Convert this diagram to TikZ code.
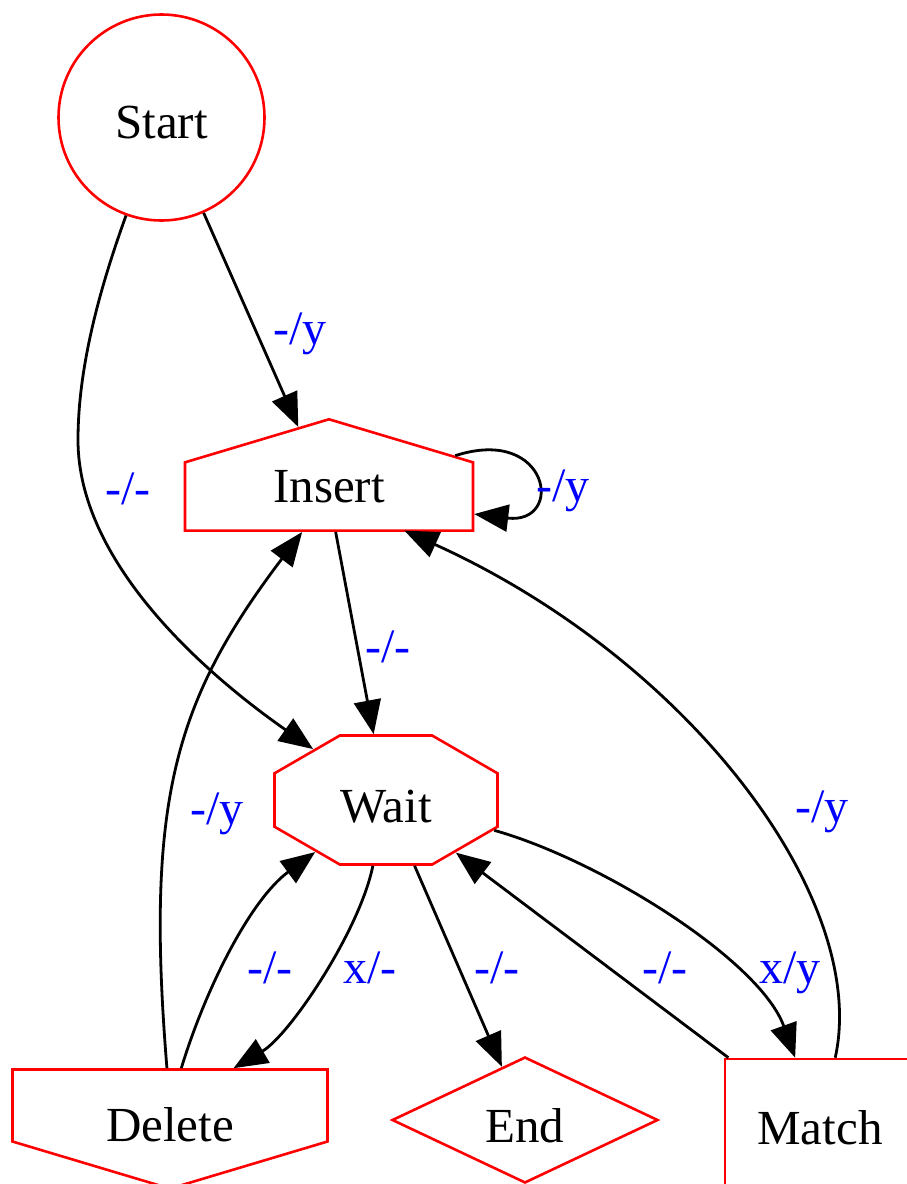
\documentclass[tikz,border=0pt]{standalone}
\usepackage{fontspec}
\setmainfont{Liberation Serif}
\usetikzlibrary{shapes.geometric,shapes.symbols,arrows.meta}
\definecolor{statered}{RGB}{255,0,0}
\definecolor{labelblue}{RGB}{0,0,255}

\begin{document}
\begin{tikzpicture}[x=1pt,y=-1pt,
    state/.style={draw=statered,line width=2.6pt,inner sep=0pt,text depth=0pt,font=\fontsize{49}{58}\selectfont},
    house/.style={signal,signal from=nowhere,signal pointer angle=146.7},
    edge/.style={line width=2.8pt,-{Triangle[length=34pt,width=27pt]}},
    lbl/.style={text=labelblue,inner sep=0pt,anchor=base,font=\fontsize{48}{58}\selectfont}]
  \clip (0,0) rectangle (907,1184);
  % states
  \node[state,circle,minimum size=206,text height=41pt] (start) at (161.5,117.5) {Start};
  \node[state,house,signal to=north,minimum width=288,minimum height=85,
        text height=33pt,text depth=22pt] (insert) at (329,496.5) {Insert};
  \node[state,shift={(386,800)},regular polygon,regular polygon sides=8,minimum size=139.6,
        xscale=1.7287,transform shape,text height=44pt] (wait) {\scalebox{0.5785}[1]{Wait}};
  \node[state,house,signal to=south,minimum width=315,minimum height=88,
        text height=72pt] (delete) at (170,1105.5) {Delete};
  \node[state,diamond,aspect=2,minimum width=266,minimum height=126,text height=44pt] (end) at (525,1120) {End};
  \node[state,rectangle,minimum width=190,minimum height=136] (match) at (820,1127) {Match};
  % transitions
  \draw[edge] (start) -- (insert);
  \draw[edge] (start) .. controls (98,293) and (78,370) .. (78,440)
    .. controls (78,560) and (200,670) .. (wait);
  \draw[edge] (insert) .. controls (550,425) and (565,525) .. (insert);
  \draw[edge] (insert) -- (wait);
  \draw[edge] (delete) .. controls (145,800) and (175,700) .. (insert);
  \draw[edge] (delete) .. controls (205,990) and (250,900) .. (wait);
  \draw[edge] (wait) .. controls (360,930) and (290,1035) .. (delete);
  \draw[edge] (wait) -- (end);
  \draw[edge] (match) -- (wait);
  \draw[edge] (wait) .. controls (600,860) and (760,960) .. (match);
  \draw[edge] (match) .. controls (870,900) and (690,660) .. (insert);
  % labels
  \node[lbl] (lab-si) at (300,344) {-/y};
  \node[lbl] (lab-sw) at (128,504) {-/-};
  \node[lbl] (lab-ii) at (563,501) {-/y};
  \node[lbl] (lab-iw) at (388,662) {-/-};
  \node[lbl] (lab-di) at (217,824) {-/y};
  \node[lbl] (lab-dw) at (270,983) {-/-};
  \node[lbl] (lab-wd) at (370,983) {x/-};
  \node[lbl] (lab-we) at (497,983) {-/-};
  \node[lbl] (lab-mw) at (665,983) {-/-};
  \node[lbl] (lab-wm) at (790,983) {x/y};
  \node[lbl] (lab-mi) at (822,822) {-/y};
\end{tikzpicture}
\end{document}
